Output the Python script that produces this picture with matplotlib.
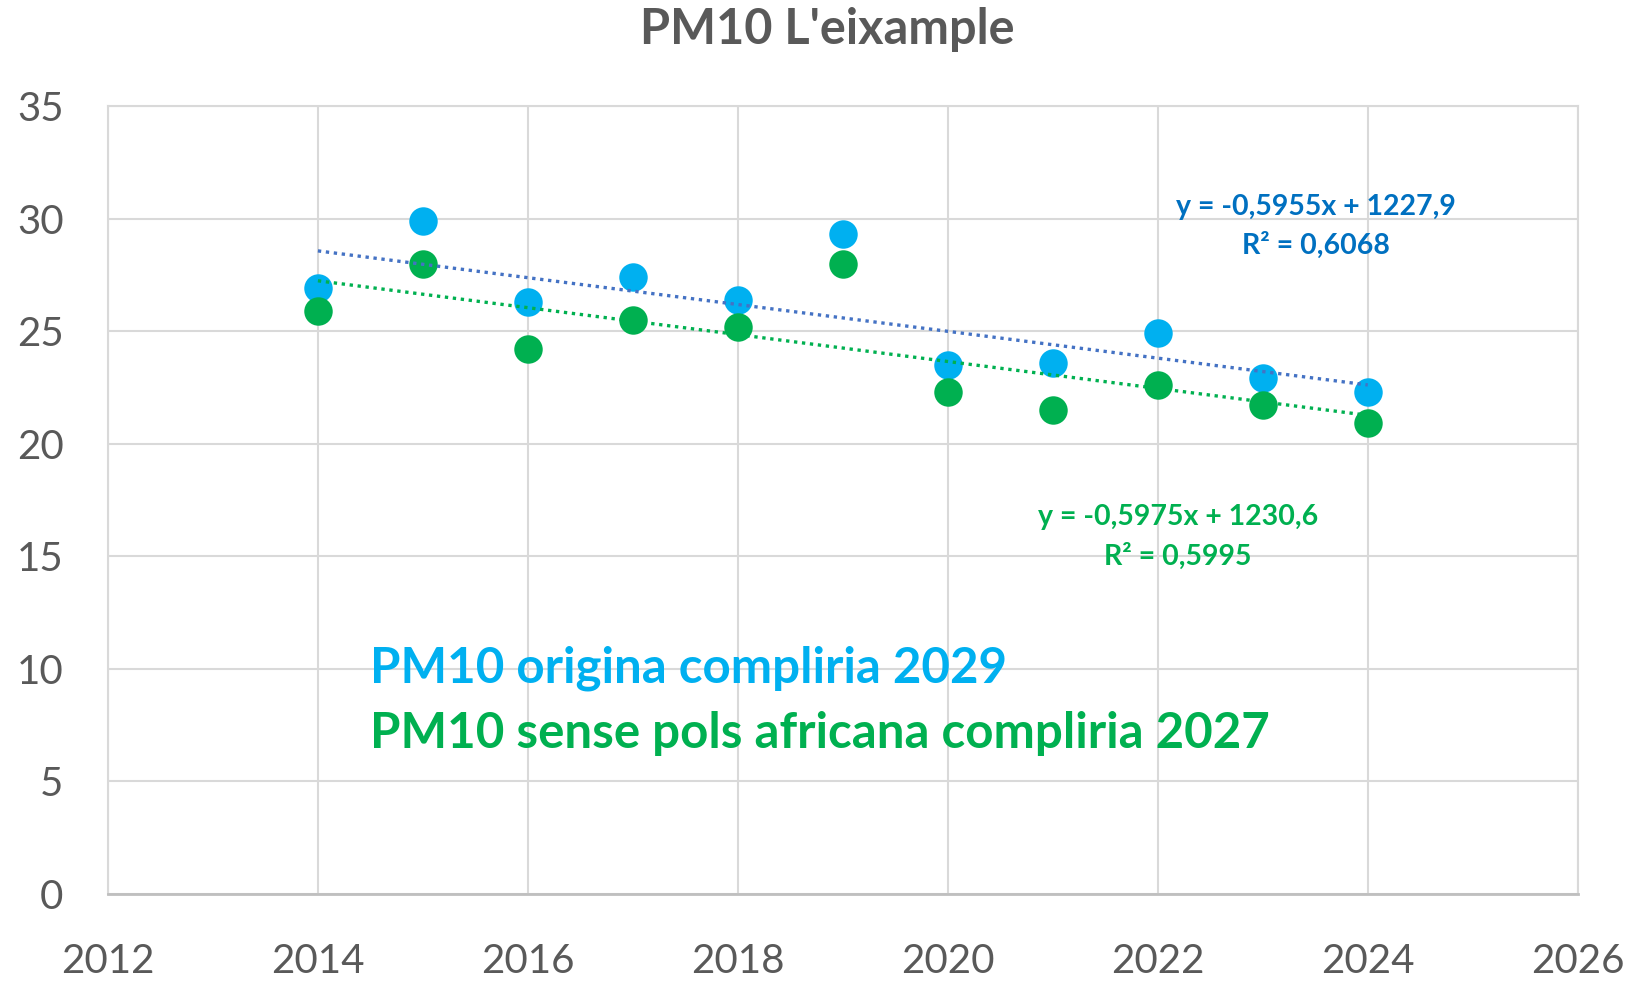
import matplotlib
matplotlib.use("Agg")
import matplotlib.pyplot as plt
import numpy as np

plt.rcParams['font.family'] = ['Lato', 'DejaVu Sans']

years = [2014, 2015, 2016, 2017, 2018, 2019, 2020, 2021, 2022, 2023, 2024]
pm10_original = [26.9, 29.9, 26.3, 27.4, 26.4, 29.3, 23.5, 23.6, 24.9, 22.9, 22.3]
pm10_sense_pols = [25.9, 28.0, 24.2, 25.5, 25.2, 28.0, 22.3, 21.5, 22.6, 21.7, 20.9]

# linear trend coefficients (slope, intercept, r2)
trend_original = (-0.5955, 1227.9, 0.6068)
trend_sense_pols = (-0.5975, 1230.6, 0.5995)

gray = '#595959'
grid = '#D9D9D9'
c_orig = '#00B0F0'
c_sense = '#00B050'
c_trend_orig = '#4472C4'
c_eq_orig = '#0070C0'

fig = plt.figure(figsize=(16.35, 9.81), dpi=100)
ax = fig.add_axes([0.066, 0.0887, 0.899, 0.8033])

ax.scatter(years, pm10_original, s=420, color=c_orig, zorder=3, linewidths=0)
ax.scatter(years, pm10_sense_pols, s=420, color=c_sense, zorder=3, linewidths=0)


def eq_label(m, b, r2):
    s = 'y = %sx + %s\nR² = %s' % (('%.4f' % m), ('%.1f' % b), ('%.4f' % r2))
    return s.replace('.', ',')


xs = np.array([years[0], years[-1]])
for (m, b, r2), col, tcol, pos in [
        (trend_original, c_trend_orig, c_eq_orig, (2023.51, 29.65)),
        (trend_sense_pols, c_sense, c_sense, (2022.19, 15.85))]:
    ax.plot(xs, m * xs + b, linestyle=(0, (1, 1.4)), color=col, lw=2.4, zorder=4)
    ax.text(pos[0], pos[1], eq_label(m, b, r2), color=tcol, fontsize=20.5,
            fontweight='bold', ha='center', va='center', linespacing=1.55)

ax.text(2014.5, 10.03, 'PM10 origina compliria 2029', color=c_orig,
        fontsize=35.5, fontweight='bold', va='center', ha='left')
ax.text(2014.5, 7.15, 'PM10 sense pols africana compliria 2027', color=c_sense,
        fontsize=35.5, fontweight='bold', va='center', ha='left')

ax.set_xlim(2012, 2026)
ax.set_ylim(0, 35)
ax.set_xticks(range(2012, 2027, 2))
ax.set_yticks(range(0, 36, 5))
ax.grid(True, color=grid, lw=1.5)
ax.set_axisbelow(True)
for side in ['top', 'right', 'left']:
    ax.spines[side].set_color(grid)
    ax.spines[side].set_linewidth(1.5)
ax.spines['bottom'].set_color('#BFBFBF')
ax.spines['bottom'].set_linewidth(2)
ax.tick_params(axis='both', length=0, labelsize=29, labelcolor=gray)
ax.tick_params(axis='x', pad=35)
ax.tick_params(axis='y', pad=32)

fig.text(0.506, 0.970, "PM10 L'eixample", ha='center', va='center',
         fontsize=35, fontweight='bold', color=gray)

fig.savefig('out.png', dpi=100, facecolor='white')
